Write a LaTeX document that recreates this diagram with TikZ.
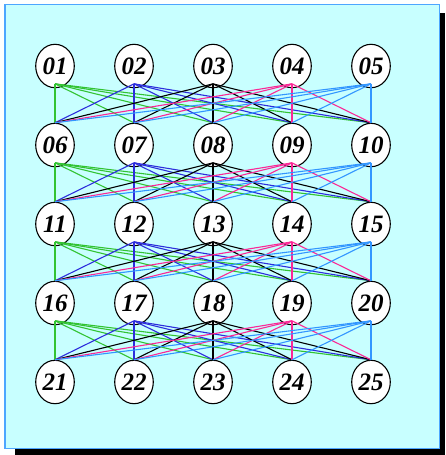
\documentclass[tikz,border=0pt]{standalone}
\usepackage{fontspec}
\setmainfont{Liberation Serif}
\usetikzlibrary{shapes.geometric}
\definecolor{lcyan}{RGB}{200,255,255}
\definecolor{frameblue}{RGB}{77,166,255}
\definecolor{lgreen}{RGB}{50,195,50}
\definecolor{lblue}{RGB}{45,45,220}
\definecolor{lpink}{RGB}{250,40,150}
\definecolor{lsky}{RGB}{50,150,255}
\begin{document}
\begin{tikzpicture}[x=1pt, y=1pt,
    numnode/.style={ellipse, draw, fill=white, line width=1.1pt, inner sep=0pt,
        minimum width=38.6pt, minimum height=43.4pt,
        font=\bfseries\itshape\fontsize{25}{25}\selectfont},
    link/.style={line width=1.1pt}]
    \useasboundingbox (0,0) rectangle (445,-455);
    % frame with shadow
    \fill[black] (15,-13) rectangle (445,-455);
    \draw[frameblue, fill=lcyan, line width=1.5pt] (5,-4.5) rectangle (439.3,-448.3);

    % the 5x5 nodes
    \foreach \r in {0,...,4}
      \foreach \c in {1,...,5} {
        \pgfmathtruncatemacro{\k}{5*\r+\c}
        \node[numnode] (n\k) at ({55+79*(\c-1)}, {-66-79*\r})
            {\raisebox{-1.5pt}{\ifnum\k<10 0\fi\k}};
      }

    % every node linked to each node of the next row
    \foreach \r in {0,...,3}
      \foreach \c/\colr in {1/lgreen, 2/lblue, 3/black, 4/lpink, 5/lsky}
        \foreach \d in {1,...,5} {
          \pgfmathtruncatemacro{\a}{5*\r+\c}
          \pgfmathtruncatemacro{\b}{5*\r+5+\d}
          \draw[link, color=\colr] ([yshift=4.4pt]n\a.south) -- (n\b.north);
        }
\end{tikzpicture}
\end{document}
